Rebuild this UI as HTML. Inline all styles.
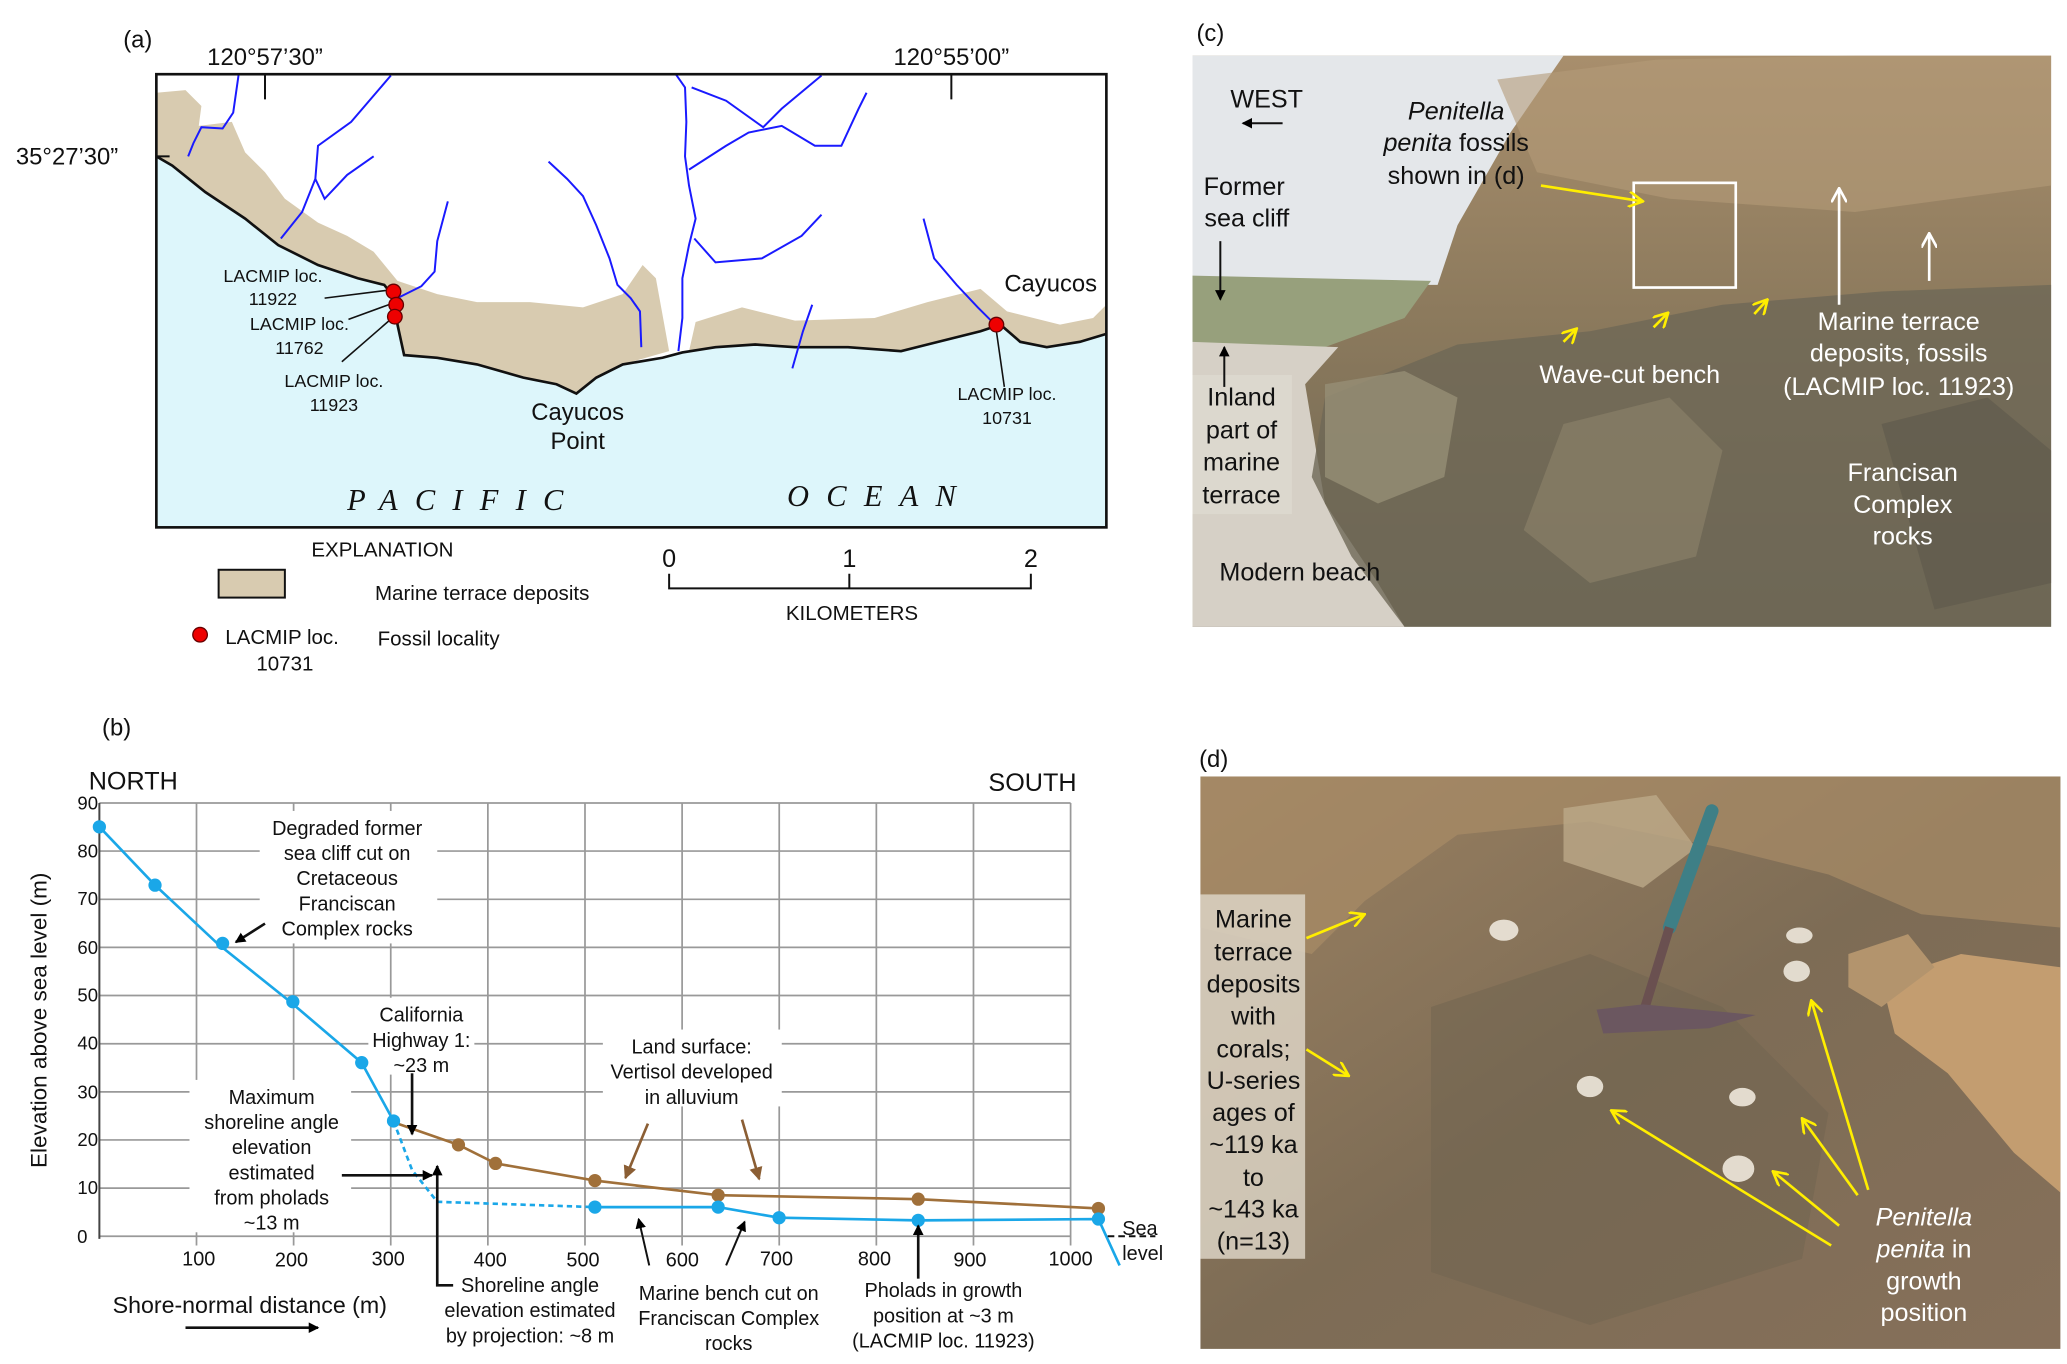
<!DOCTYPE html>
<html><head><meta charset="utf-8"><style>
html,body{margin:0;padding:0;background:#fff;}
svg{display:block;}
text{font-family:"Liberation Sans",sans-serif;}
.s{font-size:15px;fill:#111;}
.w{font-size:19px;fill:#fff;}
.b{font-size:19px;fill:#111;}
</style></head><body>
<svg width="2067" height="1364" viewBox="0 0 1560 1029.4" preserveAspectRatio="none" xmlns="http://www.w3.org/2000/svg">
<defs>
<marker id="ak" markerWidth="8" markerHeight="8" refX="7" refY="4" orient="auto" markerUnits="userSpaceOnUse"><path d="M0,0 L8,4 L0,8 z" fill="#000"/></marker>
<marker id="ab" markerWidth="10" markerHeight="10" refX="9" refY="5" orient="auto" markerUnits="userSpaceOnUse"><path d="M0,0 L10,5 L0,10 z" fill="#8b5e34"/></marker>
<marker id="ay" markerWidth="12" markerHeight="12" refX="11" refY="6" orient="auto" markerUnits="userSpaceOnUse"><path d="M0,0 L11,6 L0,12" fill="none" stroke="#ffee00" stroke-width="2"/></marker>
<marker id="aw" markerWidth="12" markerHeight="12" refX="11" refY="6" orient="auto" markerUnits="userSpaceOnUse"><path d="M0,0 L11,6 L0,12" fill="none" stroke="#fff" stroke-width="2"/></marker>
<linearGradient id="gc" x1="0" y1="0" x2="0" y2="1"><stop offset="0" stop-color="#a88e6c"/><stop offset="0.45" stop-color="#8c7a5d"/><stop offset="1" stop-color="#6c6552"/></linearGradient>
<linearGradient id="gd" x1="0" y1="0" x2="1" y2="1"><stop offset="0" stop-color="#9c8262"/><stop offset="0.5" stop-color="#7d6c55"/><stop offset="1" stop-color="#86705a"/></linearGradient>
</defs>

<!-- ===== (a) MAP ===== -->
<text x="93" y="36" font-size="18" fill="#111">(a)</text>
<rect x="118" y="56" width="717" height="342" fill="#ddf6fb"/>
<!-- land -->
<path d="M118,56 L835,56 L835,252 L815,258 L790,262 L770,258 L755,245 L740,250 L700,260 L680,265 L640,262 L600,262 L570,260 L540,262 L515,266 L500,270 L470,275 L450,285 L435,297 L420,290 L395,285 L360,275 L330,270 L305,268 L300,245 L298,225 L290,215 L270,210 L240,200 L210,185 L185,165 L155,145 L130,125 L118,118 Z" fill="#fff"/>
<path d="M118,118 L118,70 L140,68 L152,80 L150,95 L175,92 L185,115 L200,130 L215,150 L240,168 L262,178 L282,190 L300,212 L330,222 L360,228 L400,228 L440,232 L470,222 L485,200 L495,210 L505,265 L470,275 L450,285 L435,297 L420,290 L395,285 L360,275 L330,270 L305,268 L300,245 L298,225 L290,215 L270,210 L240,200 L210,185 L185,165 L155,145 L130,125 Z" fill="#d8cbb0"/>
<path d="M525,243 L560,232 L600,242 L660,240 L700,228 L740,218 L760,235 L800,245 L825,240 L835,230 L835,252 L815,258 L790,262 L770,258 L755,245 L740,250 L700,260 L680,265 L640,262 L600,262 L570,260 L540,262 L520,265 Z" fill="#d8cbb0"/>
<path d="M835,252 L815,258 L790,262 L770,258 L755,245 L740,250 L700,260 L680,265 L640,262 L600,262 L570,260 L540,262 L515,266 L500,270 L470,275 L450,285 L435,297 L420,290 L395,285 L360,275 L330,270 L305,268 L300,245 L298,225 L290,215 L270,210 L240,200 L210,185 L185,165 L155,145 L130,125 L118,118" fill="none" stroke="#111" stroke-width="2"/>
<!-- rivers -->
<g fill="none" stroke="#1a1aff" stroke-width="1.5">
<path d="M180,57 L176,85 L168,97 L152,96 L146,108 L142,118"/>
<path d="M295,57 L265,92 L240,110 L238,135 L228,160 L212,180"/>
<path d="M238,135 L245,150 L262,132 L282,118"/>
<path d="M338,152 L330,182 L328,205 L318,216 L300,225"/>
<path d="M414,122 L428,135 L440,148 L450,170 L460,195 L466,215 L476,225 L483,235 L484,262"/>
<path d="M510,56 L517,66 L518,92 L517,118 L520,140 L525,165 L520,185 L515,210 L515,240 L512,265"/>
<path d="M522,66 L548,76 L576,96 L590,82 L620,57"/>
<path d="M520,128 L548,110 L565,100 L590,95 L615,110 L635,110 L648,82 L654,70"/>
<path d="M524,180 L540,198 L575,195 L605,178 L620,162"/>
<path d="M613,230 L606,250 L598,278"/>
<path d="M697,165 L705,195 L722,215 L738,232 L752,246"/>
</g>
<rect x="118" y="56" width="717" height="342" fill="none" stroke="#111" stroke-width="2"/>
<line x1="200" y1="56" x2="200" y2="75" stroke="#111" stroke-width="1.5"/>
<line x1="718" y1="56" x2="718" y2="75" stroke="#111" stroke-width="1.5"/>
<line x1="118" y1="118" x2="128" y2="118" stroke="#111" stroke-width="1.5"/>
<text x="200" y="49" font-size="18" text-anchor="middle" fill="#111">120°57’30”</text>
<text x="718" y="49" font-size="18" text-anchor="middle" fill="#111">120°55’00”</text>
<text x="12" y="124" font-size="18" fill="#111">35°27’30”</text>
<g stroke="#111" stroke-width="1.2">
<line x1="245" y1="225" x2="293" y2="219"/><line x1="263" y1="241" x2="296" y2="229"/><line x1="258" y1="273" x2="296" y2="240"/><line x1="758" y1="292" x2="752" y2="250"/>
</g>
<g fill="#e00" stroke="#600" stroke-width="1"><circle cx="297" cy="220" r="5.5"/><circle cx="299" cy="230" r="5.5"/><circle cx="298" cy="239" r="5.5"/><circle cx="752" cy="245" r="5.5"/></g>
<g font-size="13.5" fill="#111" text-anchor="middle">
<text x="206" y="213">LACMIP loc.</text><text x="206" y="230">11922</text>
<text x="226" y="249">LACMIP loc.</text><text x="226" y="267">11762</text>
<text x="252" y="292">LACMIP loc.</text><text x="252" y="310">11923</text>
<text x="760" y="302">LACMIP loc.</text><text x="760" y="320">10731</text>
</g>
<text x="793" y="220" font-size="18" text-anchor="middle" fill="#111">Cayucos</text>
<text x="436" y="317" font-size="18" text-anchor="middle" fill="#111">Cayucos</text>
<text x="436" y="339" font-size="18" text-anchor="middle" fill="#111">Point</text>
<text x="262" y="385" font-size="23" font-style="italic" font-family="Liberation Serif,serif" letter-spacing="13" fill="#111" style="font-family:'Liberation Serif',serif">PACIFIC</text>
<text x="594" y="382" font-size="23" font-style="italic" letter-spacing="13" fill="#111" style="font-family:'Liberation Serif',serif">OCEAN</text>
<!-- legend -->
<text x="235" y="420" font-size="15.5" fill="#111">EXPLANATION</text>
<rect x="165" y="430" width="50" height="21" fill="#d8cbb0" stroke="#111" stroke-width="1.5"/>
<text x="283" y="453" font-size="15.5" fill="#111">Marine terrace deposits</text>
<circle cx="151" cy="479" r="5.5" fill="#e00" stroke="#600"/>
<text x="170" y="486" font-size="15.5" fill="#111">LACMIP loc.</text>
<text x="215" y="506" font-size="15.5" text-anchor="middle" fill="#111">10731</text>
<text x="285" y="487" font-size="15.5" fill="#111">Fossil locality</text>
<g stroke="#111" stroke-width="1.5" fill="none"><path d="M505,433 L505,444 L778,444 L778,433"/><line x1="641" y1="433" x2="641" y2="444"/></g>
<text x="505" y="428" font-size="19" text-anchor="middle" fill="#111">0</text>
<text x="641" y="428" font-size="19" text-anchor="middle" fill="#111">1</text>
<text x="778" y="428" font-size="19" text-anchor="middle" fill="#111">2</text>
<text x="643" y="468" font-size="15.5" text-anchor="middle" fill="#111">KILOMETERS</text>

<!-- ===== (b) CHART ===== -->
<text x="77" y="555" font-size="18" fill="#111">(b)</text>
<text x="67" y="596" font-size="19" fill="#111">NORTH</text>
<text x="746" y="597" font-size="19" fill="#111">SOUTH</text>
<g stroke="#999" stroke-width="1.3">
<line x1="75" y1="606" x2="808" y2="606"/><line x1="75" y1="642.3" x2="808" y2="642.3"/><line x1="75" y1="678.7" x2="808" y2="678.7"/><line x1="75" y1="715" x2="808" y2="715"/><line x1="75" y1="751.3" x2="808" y2="751.3"/><line x1="75" y1="787.7" x2="808" y2="787.7"/><line x1="75" y1="824" x2="808" y2="824"/><line x1="75" y1="860.3" x2="808" y2="860.3"/><line x1="75" y1="896.7" x2="808" y2="896.7"/><line x1="75" y1="933" x2="808" y2="933"/>
<line x1="148.3" y1="606" x2="148.3" y2="940"/><line x1="221.6" y1="606" x2="221.6" y2="940"/><line x1="294.9" y1="606" x2="294.9" y2="940"/><line x1="368.2" y1="606" x2="368.2" y2="940"/><line x1="441.5" y1="606" x2="441.5" y2="940"/><line x1="514.8" y1="606" x2="514.8" y2="940"/><line x1="588.1" y1="606" x2="588.1" y2="940"/><line x1="661.4" y1="606" x2="661.4" y2="940"/><line x1="734.7" y1="606" x2="734.7" y2="940"/><line x1="808" y1="606" x2="808" y2="940"/>
</g>
<line x1="75" y1="606" x2="75" y2="935" stroke="#444" stroke-width="1.5"/>
<g font-size="14" fill="#111" text-anchor="end">
<text x="74" y="611">90</text><text x="74" y="647">80</text><text x="74" y="683">70</text><text x="74" y="720">60</text><text x="74" y="756">50</text><text x="74" y="792">40</text><text x="74" y="829">30</text><text x="74" y="865">20</text><text x="74" y="901">10</text><text x="66" y="938">0</text>
</g>
<g font-size="15" fill="#111" text-anchor="middle">
<text x="150" y="955">100</text><text x="220" y="956">200</text><text x="293" y="955">300</text><text x="370" y="956">400</text><text x="440" y="956">500</text><text x="515" y="956">600</text><text x="586" y="955">700</text><text x="660" y="955">800</text><text x="732" y="956">900</text><text x="808" y="955">1000</text>
</g>
<text transform="translate(35,770) rotate(-90)" font-size="17" text-anchor="middle" fill="#111">Elevation above sea level (m)</text>
<!-- white label backgrounds -->
<rect x="196" y="612" width="134" height="100" fill="#fff"/>
<rect x="143" y="815" width="122" height="115" fill="#fff"/>
<rect x="278" y="753" width="80" height="58" fill="#fff"/>
<rect x="455" y="777" width="135" height="58" fill="#fff"/>
<!-- lines -->
<polyline points="300,848 346,864 374,878 449,891 542,902 693,905 829,912" fill="none" stroke="#a0703a" stroke-width="2"/>
<polyline points="75,624 117,668 164,712 219,756 273,802 297,846" fill="none" stroke="#1aa7e8" stroke-width="2"/>
<polyline points="297,846 311,883 330,907 449,911" fill="none" stroke="#1aa7e8" stroke-width="2" stroke-dasharray="4,3"/>
<polyline points="449,911 542,911 588,919 693,921 829,920 845,955" fill="none" stroke="#1aa7e8" stroke-width="2"/>
<g fill="#a0703a"><circle cx="346" cy="864" r="5"/><circle cx="374" cy="878" r="5"/><circle cx="449" cy="891" r="5"/><circle cx="542" cy="902" r="5"/><circle cx="693" cy="905" r="5"/><circle cx="829" cy="912" r="5"/></g>
<g fill="#1aa7e8"><circle cx="75" cy="624" r="5"/><circle cx="117" cy="668" r="5"/><circle cx="168" cy="712" r="5"/><circle cx="221" cy="756" r="5"/><circle cx="273" cy="802" r="5"/><circle cx="297" cy="846" r="5"/><circle cx="449" cy="911" r="5"/><circle cx="542" cy="911" r="5"/><circle cx="588" cy="919" r="5"/><circle cx="693" cy="921" r="5"/><circle cx="829" cy="920" r="5"/></g>
<line x1="836" y1="933" x2="872" y2="933" stroke="#111" stroke-width="1.5" stroke-dasharray="5,3"/>
<!-- annotations -->
<g class="s" text-anchor="middle">
<text x="262" y="630">Degraded former</text><text x="262" y="649">sea cliff cut on</text><text x="262" y="668">Cretaceous</text><text x="262" y="687">Franciscan</text><text x="262" y="706">Complex rocks</text>
<text x="318" y="771">California</text><text x="318" y="790">Highway 1:</text><text x="318" y="809">~23 m</text>
<text x="205" y="833">Maximum</text><text x="205" y="852">shoreline angle</text><text x="205" y="871">elevation</text><text x="205" y="890">estimated</text><text x="205" y="909">from pholads</text><text x="205" y="928">~13 m</text>
<text x="522" y="795">Land surface:</text><text x="522" y="814">Vertisol developed</text><text x="522" y="833">in alluvium</text>
<text x="400" y="975">Shoreline angle</text><text x="400" y="994">elevation estimated</text><text x="400" y="1013">by projection: ~8 m</text>
<text x="550" y="981">Marine bench cut on</text><text x="550" y="1000">Franciscan Complex</text><text x="550" y="1019">rocks</text>
<text x="712" y="979">Pholads in growth</text><text x="712" y="998">position at ~3 m</text><text x="712" y="1017">(LACMIP loc. 11923)</text>
</g>
<text x="847" y="932" class="s">Sea</text><text x="847" y="951" class="s">level</text>
<text x="85" y="991" font-size="17.5" fill="#111">Shore-normal distance (m)</text>
<g stroke="#111" stroke-width="2" fill="none">
<line x1="140" y1="1002" x2="240" y2="1002" marker-end="url(#ak)"/>
<line x1="200" y1="697" x2="178" y2="711" marker-end="url(#ak)"/>
<line x1="311" y1="810" x2="311" y2="856" marker-end="url(#ak)"/>
<line x1="258" y1="887" x2="326" y2="887" marker-end="url(#ak)"/>
<path d="M342,970 L330,970 L330,880" marker-end="url(#ak)"/>
<line x1="490" y1="955" x2="482" y2="920" stroke-width="1.5" marker-end="url(#ak)"/>
<line x1="548" y1="955" x2="562" y2="922" stroke-width="1.5" marker-end="url(#ak)"/>
<line x1="693" y1="965" x2="693" y2="925" marker-end="url(#ak)"/>
</g>
<g stroke="#8b5e34" stroke-width="2"><line x1="489" y1="848" x2="472" y2="889" marker-end="url(#ab)"/><line x1="560" y1="845" x2="573" y2="890" marker-end="url(#ab)"/></g>

<!-- ===== (c) PHOTO ===== -->
<text x="903" y="31" font-size="18" fill="#111">(c)</text>
<rect x="900" y="42" width="648" height="431" fill="url(#gc)"/>
<path d="M900,42 L1180,42 L1140,100 L1100,170 L1085,215 L900,215 Z" fill="#e4e7ea"/>
<path d="M900,208 L1080,212 L1060,240 L1000,262 L900,262 Z" fill="#97a07c"/>
<path d="M900,258 L1010,262 L985,290 L1000,380 L1040,440 L1060,473 L900,473 Z" fill="#d6d0c6"/>
<path d="M1000,300 L1100,260 L1200,250 L1300,230 L1420,220 L1548,215 L1548,473 L1060,473 L1020,420 L990,360 Z" fill="#6e6856" opacity="0.8"/>
<path d="M1000,290 L1060,280 L1100,300 L1090,360 L1040,380 L1000,360 Z" fill="#968e75" opacity="0.8"/>
<path d="M1180,320 L1260,300 L1300,340 L1280,420 L1200,440 L1150,400 Z" fill="#8d846b" opacity="0.6"/>
<path d="M1420,320 L1500,300 L1548,340 L1548,440 L1460,460 Z" fill="#5e594b" opacity="0.6"/>
<path d="M1130,60 L1250,45 L1400,42 L1548,42 L1548,140 L1400,160 L1260,150 L1160,130 Z" fill="#b49b78" opacity="0.6"/>
<rect x="900" y="283" width="75" height="105" fill="#ddd9d0" opacity="0.8"/>
<rect x="1233" y="138" width="77" height="79" fill="none" stroke="#fff" stroke-width="2"/>
<text x="956" y="81" class="b" text-anchor="middle">WEST</text>
<line x1="968" y1="93" x2="938" y2="93" stroke="#111" stroke-width="1.5" marker-end="url(#ak)"/>
<g class="b" text-anchor="middle">
<text x="1099" y="90" font-style="italic">Penitella</text>
<text x="1099" y="114"><tspan font-style="italic">penita</tspan> fossils</text>
<text x="1099" y="139">shown in (d)</text>
<text x="939" y="147">Former</text><text x="941" y="171">sea cliff</text>
<text x="937" y="306">Inland</text><text x="937" y="331">part of</text><text x="937" y="355">marine</text><text x="937" y="380">terrace</text>
<text x="981" y="438">Modern beach</text>
</g>
<line x1="921" y1="182" x2="921" y2="226" stroke="#111" stroke-width="1.5" marker-end="url(#ak)"/>
<line x1="924" y1="292" x2="924" y2="262" stroke="#111" stroke-width="1.5" marker-end="url(#ak)"/>
<g stroke="#ffee00" stroke-width="2"><line x1="1163" y1="140" x2="1240" y2="152" marker-end="url(#ay)"/><line x1="1180" y1="258" x2="1190" y2="248" marker-end="url(#ay)"/><line x1="1248" y1="247" x2="1259" y2="236" marker-end="url(#ay)"/><line x1="1324" y1="237" x2="1334" y2="226" marker-end="url(#ay)"/></g>
<g stroke="#fff" stroke-width="2"><line x1="1388" y1="230" x2="1388" y2="142" marker-end="url(#aw)"/><line x1="1456" y1="212" x2="1456" y2="176" marker-end="url(#aw)"/></g>
<g class="w" text-anchor="middle">
<text x="1230" y="289">Wave-cut bench</text>
<text x="1433" y="249">Marine terrace</text><text x="1433" y="273">deposits, fossils</text><text x="1433" y="298">(LACMIP loc. 11923)</text>
<text x="1436" y="363">Francisan</text><text x="1436" y="387">Complex</text><text x="1436" y="411">rocks</text>
</g>

<!-- ===== (d) PHOTO ===== -->
<text x="905" y="579" font-size="18" fill="#111">(d)</text>
<rect x="906" y="586" width="649" height="432" fill="url(#gd)"/>
<path d="M906,586 L1555,586 L1555,700 L1450,690 L1380,660 L1300,640 L1200,620 L1100,630 L1030,680 L990,720 L906,700 Z" fill="#a88b66" opacity="0.7"/>
<path d="M1180,610 L1250,600 L1280,640 L1240,670 L1180,650 Z" fill="#bca988" opacity="0.8"/>
<path d="M1420,740 L1480,720 L1555,730 L1555,900 L1520,870 L1470,810 L1430,780 Z" fill="#c39d70"/>
<path d="M1395,720 L1440,705 L1460,730 L1420,760 L1395,745 Z" fill="#b3946d"/>
<path d="M1080,760 L1200,720 L1300,760 L1380,840 L1360,950 L1200,1000 L1080,960 Z" fill="#6f634f" opacity="0.5"/>
<g fill="#eee8dc" opacity="0.9"><ellipse cx="1135" cy="702" rx="11" ry="8"/><ellipse cx="1356" cy="733" rx="10" ry="8"/><ellipse cx="1358" cy="706" rx="10" ry="6"/><ellipse cx="1200" cy="820" rx="10" ry="8"/><ellipse cx="1312" cy="882" rx="12" ry="10"/><ellipse cx="1315" cy="828" rx="10" ry="7"/><ellipse cx="1450" cy="770" rx="0" ry="0"/></g>
<rect x="906" y="675" width="79" height="275" fill="#dcd4c4" opacity="0.85"/>
<line x1="1292" y1="612" x2="1260" y2="700" stroke="#3e7f86" stroke-width="10" stroke-linecap="round"/>
<line x1="1260" y1="700" x2="1240" y2="765" stroke="#6a5050" stroke-width="7"/>
<path d="M1205,762 L1240,758 L1325,766 L1290,776 L1210,780 Z" fill="#6b5760"/>
<g class="b" text-anchor="middle">
<text x="946" y="700">Marine</text><text x="946" y="725">terrace</text><text x="946" y="749">deposits</text><text x="946" y="773">with</text><text x="946" y="798">corals;</text><text x="946" y="822">U-series</text><text x="946" y="846">ages of</text><text x="946" y="870">~119 ka</text><text x="946" y="895">to</text><text x="946" y="919">~143 ka</text><text x="946" y="943">(n=13)</text>
</g>
<g class="w" text-anchor="middle">
<text x="1452" y="925" font-style="italic">Penitella</text>
<text x="1452" y="949"><tspan font-style="italic">penita</tspan> in</text>
<text x="1452" y="973">growth</text><text x="1452" y="997">position</text>
</g>
<g stroke="#ffee00" stroke-width="2">
<line x1="986" y1="708" x2="1030" y2="690" marker-end="url(#ay)"/>
<line x1="986" y1="792" x2="1018" y2="812" marker-end="url(#ay)"/>
<line x1="1410" y1="898" x2="1367" y2="755" marker-end="url(#ay)"/>
<line x1="1402" y1="902" x2="1360" y2="844" marker-end="url(#ay)"/>
<line x1="1388" y1="925" x2="1338" y2="884" marker-end="url(#ay)"/>
<line x1="1382" y1="940" x2="1216" y2="838" marker-end="url(#ay)"/>
</g>
</svg>
</body></html>
